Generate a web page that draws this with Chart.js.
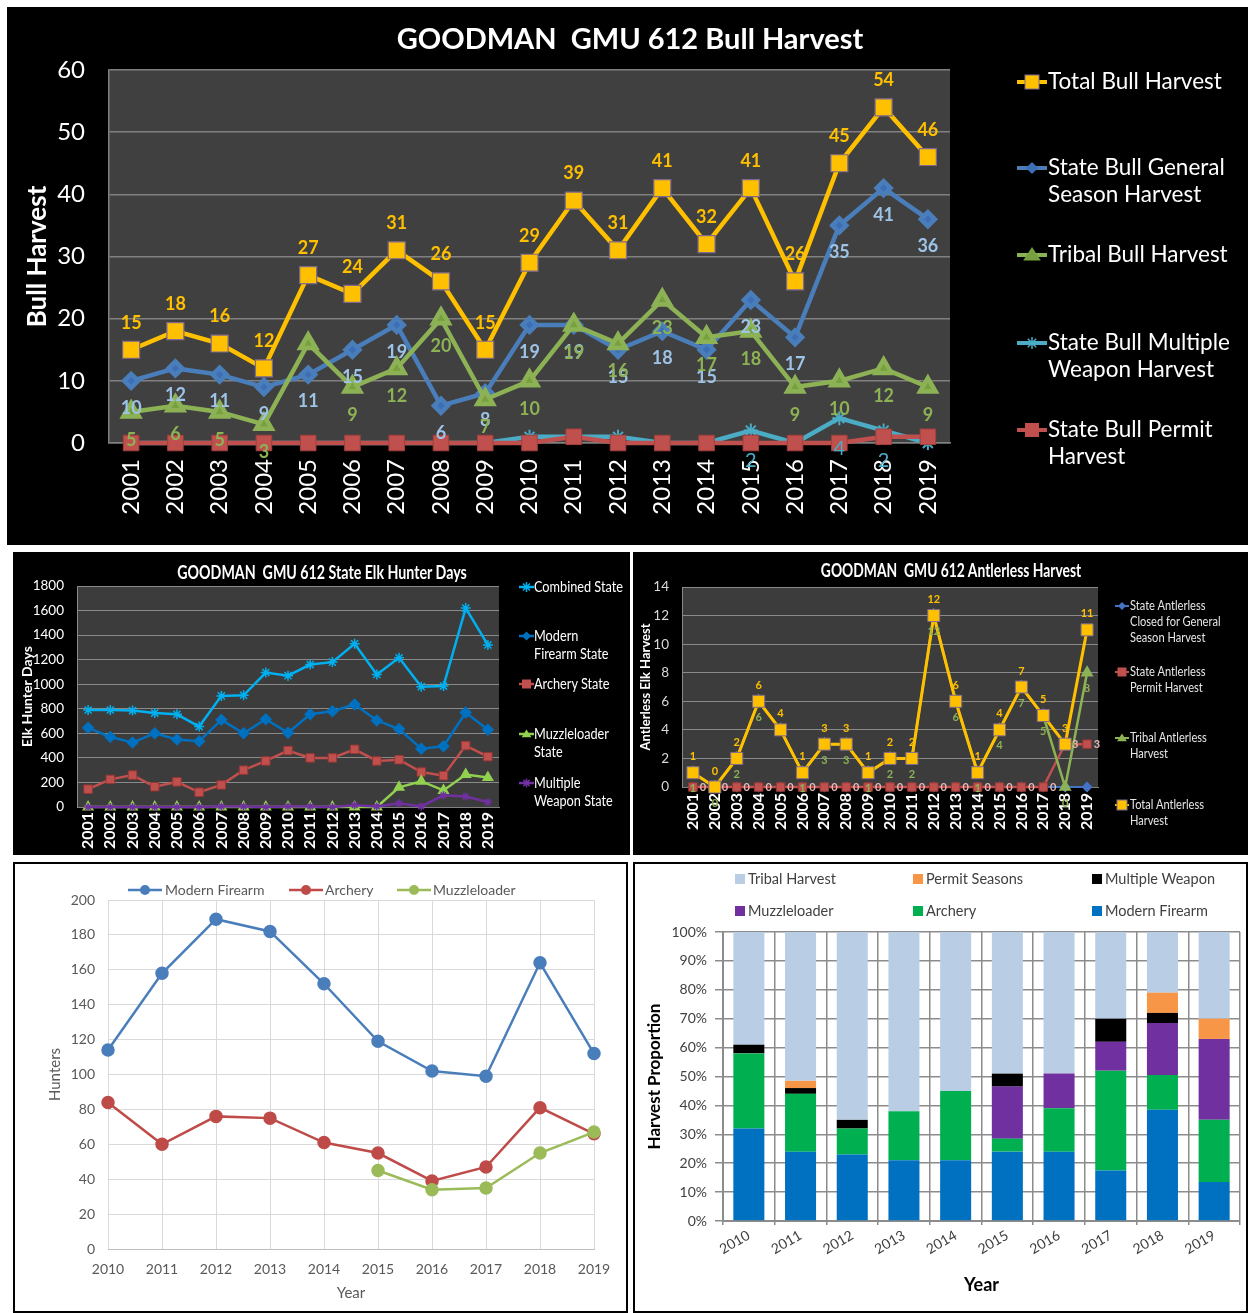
<!DOCTYPE html>
<html><head><meta charset="utf-8">
<script src="https://cdn.jsdelivr.net/npm/chart.js@4.4.1/dist/chart.umd.min.js"></script>
<style>
html,body{margin:0;padding:0;background:#fff;width:1248px;height:1313px;overflow:hidden;font-family:Lato,'Open Sans',sans-serif;}
.box{position:absolute;overflow:hidden;box-sizing:border-box;}
.box canvas{position:absolute;left:0;top:0;}
.lgt{position:absolute;white-space:nowrap;}
.sw{position:absolute;}
.ttl{position:absolute;width:700px;text-align:center;white-space:pre;color:#fff;font-family:Lato,sans-serif;font-weight:bold;transform-origin:center center;}
</style></head><body>
<div class="box" id="b1" style="left:7px;top:7px;width:1241px;height:538px;background:#000;"><canvas id="c1" width="1241" height="538"></canvas></div>
<div class="box" id="b2" style="left:13px;top:552px;width:617px;height:303px;background:#000;"><canvas id="c2" width="617" height="303"></canvas></div>
<div class="box" id="b3" style="left:633px;top:552px;width:615px;height:303px;background:#000;"><canvas id="c3" width="615" height="303"></canvas></div>
<div class="box" id="b4" style="left:13px;top:862px;width:615px;height:451px;background:#fff;border:2px solid #000;"><canvas id="c4" width="611" height="447"></canvas></div>
<div class="box" id="b5" style="left:633px;top:862px;width:615px;height:451px;background:#fff;border:2px solid #000;"><canvas id="c5" width="611" height="447"></canvas></div>
<div class="ttl" style="left:280px;top:20px;font-size:29px;line-height:36px;">GOODMAN  GMU 612 Bull Harvest</div>
<div class="ttl" style="left:-28px;top:561px;font-size:18px;line-height:22px;transform:scaleX(0.79);">GOODMAN  GMU 612 State Elk Hunter Days</div>
<div class="ttl" style="left:601px;top:559px;font-size:18px;line-height:22px;transform:scaleX(0.77);">GOODMAN  GMU 612 Antlerless Harvest</div>
<div id="legends"></div>
<script>
// ---------------- DATA ----------------
const yearsA = ['2001','2002','2003','2004','2005','2006','2007','2008','2009','2010','2011','2012','2013','2014','2015','2016','2017','2018','2019'];
const yearsB = ['2010','2011','2012','2013','2014','2015','2016','2017','2018','2019'];

// Bull harvest
const bullTotal    = [15,18,16,12,27,24,31,26,15,29,39,31,41,32,41,26,45,54,46];
const bullGeneral  = [10,12,11,9,11,15,19,6,8,19,19,15,18,15,23,17,35,41,36];
const bullTribal   = [5,6,5,3,16,9,12,20,7,10,19,16,23,17,18,9,10,12,9];
const bullMultiple = [0,0,0,0,0,0,0,0,0,1,1,1,0,0,2,0,4,2,0];
const bullPermit   = [0,0,0,0,0,0,0,0,0,0,1,0,0,0,0,0,0,1,1];
const bullNames = [['Total Bull Harvest'],['State Bull General','Season Harvest'],['Tribal Bull Harvest'],['State Bull Multiple','Weapon Harvest'],['State Bull Permit','Harvest']];

// State elk hunter days
const daysCombined = [790,790,785,765,755,655,905,910,1095,1070,1160,1180,1330,1080,1215,980,985,1620,1320];
const daysModern   = [645,570,525,600,550,535,710,600,715,605,755,780,835,705,635,475,495,770,630];
const daysArchery  = [145,225,260,165,205,120,180,300,375,460,400,400,470,375,385,285,255,500,410];
const daysMuzzle   = [0,0,0,0,0,0,0,0,0,0,0,0,0,0,160,210,135,265,240];
const daysMultiple = [0,0,0,0,0,0,5,5,0,5,5,0,15,5,30,5,95,85,40];
const daysNames = [['Combined State'],['Modern','Firearm State'],['Archery State'],['Muzzleloader','State'],['Multiple','Weapon State']];

// Antlerless harvest
const antClosed = [0,0,0,0,0,0,0,0,0,0,0,0,0,0,0,0,0,0,0];
const antPermit = [0,0,0,0,0,0,0,0,0,0,0,0,0,0,0,0,0,3,3];
const antTribal = [1,0,2,6,4,1,3,3,1,2,2,12,6,1,4,7,5,0,8];
const antTotal  = [1,0,2,6,4,1,3,3,1,2,2,12,6,1,4,7,5,3,11];
const antNames = [['State Antlerless','Closed for General','Season Harvest'],['State Antlerless','Permit Harvest'],['Tribal Antlerless','Harvest'],['Total Antlerless','Harvest']];

// Hunters
const huntModern  = [114,158,189,182,152,119,102,99,164,112];
const huntArchery = [84,60,76,75,61,55,39,47,81,66];
const huntMuzzle  = [null,null,null,null,null,45,34,35,55,67];
const huntNames = ['Modern Firearm','Archery','Muzzleloader'];

// Harvest proportion (%)
const propModern   = [32,24,23,21,21,24,24,17.5,38.5,13.5];
const propArchery  = [26,20,9,17,24,4.5,15,34.5,12,21.5];
const propMuzzle   = [0,0,0,0,0,18,12,10,18,28];
const propMultiple = [3,2,3,0,0,4.5,0,8,3.5,0];
const propPermit   = [0,2.5,0,0,0,0,0,0,7,7];
const propTribal   = [39,51.5,65,62,55,49,49,30,21,30];
const propNames = ['Tribal Harvest','Permit Seasons','Multiple Weapon','Muzzleloader','Archery','Modern Firearm'];

// ---------------- PLUGINS ----------------
const plotBg = {
  id: 'plotBg',
  beforeDraw(chart, args, opts) {
    if (!opts || !opts.color) return;
    const a = chart.chartArea, ctx = chart.ctx;
    ctx.save(); ctx.fillStyle = opts.color;
    ctx.fillRect(a.left, a.top, a.right - a.left, a.bottom - a.top);
    ctx.restore();
  }
};
const ptLabels = {
  id: 'ptLabels',
  afterDatasetsDraw(chart) {
    const ctx = chart.ctx;
    chart.data.datasets.forEach((ds, i) => {
      const cfg = ds.ptLabel; if (!cfg) return;
      const meta = chart.getDatasetMeta(i);
      ctx.save();
      ctx.font = cfg.font; ctx.fillStyle = cfg.color;
      ctx.textAlign = 'center'; ctx.textBaseline = 'middle';
      meta.data.forEach((el, j) => {
        const v = ds.data[j];
        if (v == null) return;
        if (cfg.skip && cfg.skip.includes(j)) return;
        if (cfg.min != null && v < cfg.min) return;
        ctx.fillText(String(v), el.x + (cfg.dx || 0), el.y + (cfg.dy || 0));
      });
      ctx.restore();
    });
  }
};

function base(extra) {
  return Object.assign({ animation: false, responsive: false, devicePixelRatio: 1, events: [] }, extra);
}
function ln(label, data, color, o) {
  return Object.assign({ label, data, borderColor: color, backgroundColor: color,
    pointBackgroundColor: color, pointBorderColor: color, tension: 0, fill: false, clip: false }, o);
}
const plain = v => String(v);

// ---------------- CHART 1: Bull harvest ----------------
new Chart(document.getElementById('c1'), {
  type: 'line',
  data: { labels: yearsA, datasets: [
    ln(bullNames[0].join(' '), bullTotal, '#FFC000', { borderWidth: 4.5, pointStyle: 'rect', pointRadius: 12, pointBorderColor: '#7F6A8F', pointBorderWidth: 1.2, order: 0,
      ptLabel: { color: '#FFC000', dy: -27, font: 'bold 18px Lato' } }),
    ln(bullNames[1].join(' '), bullGeneral, '#4A7EBB', { borderWidth: 4.5, pointStyle: 'rectRot', pointRadius: 7, pointBackgroundColor: '#3D6FB6', order: -1,
      ptLabel: { color: '#9DC3E6', dy: 27, font: 'bold 18px Lato' } }),
    ln(bullNames[2].join(' '), bullTribal, '#8DB255', { borderWidth: 4.5, pointStyle: 'triangle', pointRadius: 9, pointBackgroundColor: '#77A03E', order: -2,
      ptLabel: { color: '#8DB255', dy: 28, font: 'bold 18px Lato', skip: [4] } }),
    ln(bullNames[3].join(' '), bullMultiple, '#4BACC6', { borderWidth: 4.5, pointStyle: 'star', pointRadius: 7, pointBorderWidth: 2, order: -3,
      ptLabel: { color: '#4BACC6', dy: 30, font: '20px Lato', min: 2 } }),
    ln(bullNames[4].join(' '), bullPermit, '#C0504D', { borderWidth: 4.5, pointStyle: 'rect', pointRadius: 11, pointBorderColor: '#A33F3C', pointBorderWidth: 1, order: -4 })
  ]},
  options: base({
    layout: { padding: { left: 0, right: 298, top: 63, bottom: 0 } },
    plugins: { legend: { display: false }, tooltip: { enabled: false }, title: { display: false }, plotBg: { color: '#404040' } },
    scales: {
      x: { offset: true, grid: { display: false, drawTicks: false }, border: { display: true, color: '#808080', width: 1.5 },
        ticks: { color: '#fff', font: { family: 'Lato', size: 24 }, minRotation: 90, maxRotation: 90, autoSkip: false, padding: 16 },
        afterFit: a => { a.height = 102; } },
      y: { min: 0, max: 60, ticks: { stepSize: 10, color: '#fff', font: { family: 'Lato', size: 24 }, padding: 24, callback: plain },
        grid: { color: '#808080', lineWidth: 1.5, drawTicks: false }, border: { display: true, color: '#808080', width: 1.5 },
        title: { display: true, text: 'Bull Harvest', color: '#fff', font: { family: 'Lato', weight: 'bold', size: 26 }, padding: { top: 15, bottom: 0 } },
        afterFit: a => { a.width = 102; } }
    }
  }),
  plugins: [plotBg, ptLabels]
});

// ---------------- CHART 2: Elk hunter days ----------------
new Chart(document.getElementById('c2'), {
  type: 'line',
  data: { labels: yearsA, datasets: [
    ln(daysNames[0].join(' '), daysCombined, '#00B0F0', { borderWidth: 2.5, pointStyle: 'star', pointRadius: 5, pointBorderWidth: 1.5, order: 0 }),
    ln(daysNames[1].join(' '), daysModern, '#0070C0', { borderWidth: 2.5, pointStyle: 'rectRot', pointRadius: 4.5, order: -1 }),
    ln(daysNames[2].join(' '), daysArchery, '#C0504D', { borderWidth: 2.5, pointStyle: 'rect', pointRadius: 6, pointBorderColor: '#953735', pointBorderWidth: 1, order: -2 }),
    ln(daysNames[3].join(' '), daysMuzzle, '#92D050', { borderWidth: 2.5, pointStyle: 'triangle', pointRadius: 4.5, order: -3 }),
    ln(daysNames[4].join(' '), daysMultiple, '#7030A0', { borderWidth: 2.5, pointStyle: 'star', pointRadius: 4, pointBorderWidth: 1.5, order: -4 })
  ]},
  options: base({
    layout: { padding: { left: 0, right: 131, top: 34, bottom: 0 } },
    plugins: { legend: { display: false }, tooltip: { enabled: false }, title: { display: false }, plotBg: { color: '#3C3C3C' } },
    scales: {
      x: { offset: true, grid: { display: false, drawTicks: false }, border: { display: true, color: '#808080' },
        ticks: { color: '#fff', font: { family: 'Lato', weight: 'bold', size: 16 }, minRotation: 90, maxRotation: 90, autoSkip: false, padding: 5 },
        afterFit: a => { a.height = 48; } },
      y: { min: 0, max: 1800, ticks: { stepSize: 200, color: '#fff', font: { family: 'Lato', size: 13.5 }, padding: 13, callback: plain },
        grid: { color: '#8A8A8A', lineWidth: 1, drawTicks: false }, border: { display: true, color: '#8A8A8A' },
        title: { display: true, text: 'Elk Hunter Days', color: '#fff', font: { family: 'Lato', weight: 'bold', size: 14 }, padding: { top: 6, bottom: 0 } },
        afterFit: a => { a.width = 64; } }
    }
  }),
  plugins: [plotBg]
});

// ---------------- CHART 3: Antlerless ----------------
new Chart(document.getElementById('c3'), {
  type: 'line',
  data: { labels: yearsA, datasets: [
    ln(antNames[0].join(' '), antClosed, '#4472C4', { borderWidth: 2, pointStyle: 'rectRot', pointRadius: 4, order: 0 }),
    ln(antNames[1].join(' '), antPermit, '#C0504D', { borderWidth: 2.5, pointStyle: 'rect', pointRadius: 6, pointBorderColor: '#953735', pointBorderWidth: 1, order: -1,
      ptLabel: { color: '#E6B9B8', dx: 10, dy: 0, font: 'bold 11px Lato' } }),
    ln(antNames[2].join(' '), antTribal, '#8DB255', { borderWidth: 2.5, pointStyle: 'triangle', pointRadius: 5, order: -2,
      ptLabel: { color: '#8DB255', dy: 16, font: 'bold 11px Lato', skip: [4] } }),
    ln(antNames[3].join(' '), antTotal, '#FFC000', { borderWidth: 3, pointStyle: 'rect', pointRadius: 8.5, pointBorderColor: '#7F6A8F', pointBorderWidth: 1, order: -3,
      ptLabel: { color: '#FFC000', dy: -16, font: 'bold 11px Lato' } })
  ]},
  options: base({
    layout: { padding: { left: 0, right: 150, top: 35, bottom: 0 } },
    plugins: { legend: { display: false }, tooltip: { enabled: false }, title: { display: false }, plotBg: { color: '#3C3C3C' } },
    scales: {
      x: { offset: true, grid: { display: false, drawTicks: false }, border: { display: true, color: '#808080' },
        ticks: { color: '#fff', font: { family: 'Lato', weight: 'bold', size: 16 }, minRotation: 90, maxRotation: 90, autoSkip: false, padding: 6 },
        afterFit: a => { a.height = 68; } },
      y: { min: 0, max: 14, ticks: { stepSize: 2, color: '#D9D9D9', font: { family: 'Lato', size: 13.5 }, padding: 13, callback: plain },
        grid: { color: '#8A8A8A', lineWidth: 1, drawTicks: false }, border: { display: true, color: '#8A8A8A' },
        title: { display: true, text: 'Antlerless Elk Harvest', color: '#fff', font: { family: 'Lato', weight: 'bold', size: 13 }, padding: { top: 5, bottom: 0 } },
        afterFit: a => { a.width = 49; } }
    }
  }),
  plugins: [plotBg, ptLabels]
});

// ---------------- CHART 4: Hunters ----------------
new Chart(document.getElementById('c4'), {
  type: 'line',
  data: { labels: yearsB, datasets: [
    ln(huntNames[0], huntModern, '#4A7EBB', { borderWidth: 2.5, pointStyle: 'circle', pointRadius: 5.5, order: 0 }),
    ln(huntNames[1], huntArchery, '#BE4B48', { borderWidth: 2.5, pointStyle: 'circle', pointRadius: 5.5, order: -1 }),
    ln(huntNames[2], huntMuzzle, '#9BBB59', { borderWidth: 2.5, pointStyle: 'circle', pointRadius: 5.5, order: -2 })
  ]},
  options: base({
    layout: { padding: { left: 0, right: 32, top: 36, bottom: 0 } },
    plugins: { legend: { display: false }, tooltip: { enabled: false } },
    scales: {
      x: { offset: false, grid: { color: '#D9D9D9', drawTicks: false }, border: { display: true, color: '#BFBFBF' },
        ticks: { color: '#595959', font: { family: 'Lato', size: 14 }, padding: 12, autoSkip: false, maxRotation: 0 },
        title: { display: true, text: 'Year', color: '#595959', font: { family: 'Lato', size: 15 }, padding: { top: 0, bottom: 9 } },
        afterFit: a => { a.height = 62; } },
      y: { min: 0, max: 200, ticks: { stepSize: 20, color: '#595959', font: { family: 'Lato', size: 14 }, padding: 13, callback: plain },
        grid: { color: '#D9D9D9', drawTicks: false }, border: { display: false },
        title: { display: true, text: 'Hunters', color: '#595959', font: { family: 'Lato', size: 15 }, padding: { top: 31, bottom: 0 } },
        afterFit: a => { a.width = 93; } }
    }
  })
});

// ---------------- CHART 5: Harvest proportion ----------------
const barOpts = { barPercentage: 0.6, categoryPercentage: 1 };
new Chart(document.getElementById('c5'), {
  type: 'bar',
  data: { labels: yearsB, datasets: [
    Object.assign({ label: propNames[5], data: propModern, backgroundColor: '#0070C0' }, barOpts),
    Object.assign({ label: propNames[4], data: propArchery, backgroundColor: '#00B050' }, barOpts),
    Object.assign({ label: propNames[3], data: propMuzzle, backgroundColor: '#7030A0' }, barOpts),
    Object.assign({ label: propNames[2], data: propMultiple, backgroundColor: '#000000' }, barOpts),
    Object.assign({ label: propNames[1], data: propPermit, backgroundColor: '#F79646' }, barOpts),
    Object.assign({ label: propNames[0], data: propTribal, backgroundColor: '#B9CDE5' }, barOpts)
  ]},
  options: base({
    layout: { padding: { left: 0, right: 6, top: 68, bottom: 0 } },
    plugins: { legend: { display: false }, tooltip: { enabled: false } },
    scales: {
      x: { stacked: true, grid: { offset: true, color: '#8C8C8C', lineWidth: 1.5, drawTicks: true, tickLength: 4 }, border: { display: true, color: '#8C8C8C', width: 2 },
        ticks: { color: '#404040', font: { family: 'Lato', size: 14 }, minRotation: 30, maxRotation: 30, autoSkip: false, padding: 2 },
        title: { display: true, text: 'Year', color: '#000', font: { family: 'Lato', weight: 'bold', size: 18 }, padding: { top: 0, bottom: 15 } },
        afterFit: a => { a.height = 90; } },
      y: { stacked: true, min: 0, max: 100, ticks: { stepSize: 10, color: '#404040', font: { family: 'Lato', size: 14 }, padding: 8, callback: v => v + '%' },
        grid: { color: '#8C8C8C', lineWidth: 1.5, drawTicks: true, tickLength: 8 }, border: { display: true, color: '#8C8C8C', width: 2 },
        title: { display: true, text: 'Harvest Proportion', color: '#000', font: { family: 'Lato', weight: 'bold', size: 17 }, padding: { top: 9.8, bottom: 0 } },
        afterFit: a => { a.width = 88; } }
    }
  })
});

// ---------------- HTML LEGENDS ----------------
const L = document.getElementById('legends');
function svgSwatch(w, h, s) {
  const cy = h / 2, cx = w / 2, r = s.size || 0;
  const fill = s.fill || s.color, stroke = s.stroke || 'none';
  let m = '';
  if (s.shape === 'box') return `<svg width="${w}" height="${h}" style="display:block"><rect x="0" y="0" width="${w}" height="${h}" fill="${s.color}"/></svg>`;
  if (s.shape === 'rect') m = `<rect x="${cx - r}" y="${cy - r}" width="${2 * r}" height="${2 * r}" fill="${fill}" stroke="${stroke}" stroke-width="1"/>`;
  if (s.shape === 'diamond') m = `<polygon points="${cx},${cy - r} ${cx + r},${cy} ${cx},${cy + r} ${cx - r},${cy}" fill="${fill}"/>`;
  if (s.shape === 'triangle') m = `<polygon points="${cx},${cy - r} ${cx + r * 1.1},${cy + r * 0.7} ${cx - r * 1.1},${cy + r * 0.7}" fill="${fill}"/>`;
  if (s.shape === 'star') { const k = r * 0.7; m = `<path d="M${cx - r},${cy}H${cx + r}M${cx},${cy - r}V${cy + r}M${cx - k},${cy - k}L${cx + k},${cy + k}M${cx - k},${cy + k}L${cx + k},${cy - k}" stroke="${s.color}" stroke-width="1.5"/>`; }
  if (s.shape === 'circle') m = `<circle cx="${cx}" cy="${cy}" r="${r}" fill="${fill}"/>`;
  return `<svg width="${w}" height="${h}" style="display:block"><line x1="0" y1="${cy}" x2="${w}" y2="${cy}" stroke="${s.color}" stroke-width="${s.lw || 3}"/>${m}</svg>`;
}
function addItem(lines, textX, cy, lh, font, color, swX, swW, swH, sw, sx) {
  const t = document.createElement('div');
  t.className = 'lgt';
  t.style.cssText = `left:${textX}px;top:${cy - lh / 2}px;line-height:${lh}px;font:${font};color:${color};` + (sx ? `transform:scaleX(${sx});transform-origin:left top;` : '');
  lines.forEach((s, i) => { if (i) t.appendChild(document.createElement('br')); t.appendChild(document.createTextNode(s)); });
  L.appendChild(t);
  const d = document.createElement('div');
  d.className = 'sw';
  d.style.cssText = `left:${swX}px;top:${cy - swH / 2}px;`;
  d.innerHTML = svgSwatch(swW, swH, sw);
  L.appendChild(d);
}
// chart 1 legend
const sw1 = [
  { color: '#FFC000', shape: 'rect', size: 7, fill: '#FFC000', stroke: '#7F6A8F', lw: 4 },
  { color: '#4A7EBB', shape: 'diamond', size: 6, fill: '#3D6FB6', lw: 4 },
  { color: '#8DB255', shape: 'triangle', size: 8, fill: '#77A03E', lw: 4 },
  { color: '#4BACC6', shape: 'star', size: 6, lw: 4 },
  { color: '#C0504D', shape: 'rect', size: 7, fill: '#C0504D', lw: 4 }
];
[82, 168, 255, 343, 430].forEach((y, i) => addItem(bullNames[i], 1048, y, 31, "22.5px Lato", '#fff', 1017, 30, 18, sw1[i]));
// chart 2 legend
const sw2 = [
  { color: '#00B0F0', shape: 'star', size: 5, lw: 2.5 },
  { color: '#0070C0', shape: 'diamond', size: 4.5, lw: 2.5 },
  { color: '#C0504D', shape: 'rect', size: 4.5, lw: 2.5 },
  { color: '#92D050', shape: 'triangle', size: 4.5, lw: 2.5 },
  { color: '#7030A0', shape: 'star', size: 4.5, lw: 2.5 }
];
[587, 636, 684, 734, 783].forEach((y, i) => addItem(daysNames[i], 534, y, 21, "15.5px Lato", '#fff', 519, 15, 12, sw2[i], 0.82));
// chart 3 legend
const sw3 = [
  { color: '#4472C4', shape: 'diamond', size: 4, lw: 2 },
  { color: '#C0504D', shape: 'rect', size: 4.5, lw: 2 },
  { color: '#8DB255', shape: 'triangle', size: 4.5, lw: 2 },
  { color: '#FFC000', shape: 'rect', size: 5, fill: '#FFC000', stroke: '#7F6A8F', lw: 2 }
];
[606, 672, 738, 805].forEach((y, i) => addItem(antNames[i], 1130, y, 19, "13.5px Lato", '#E6E6E6', 1115, 14, 12, sw3[i], 0.82));
// chart 4 legend
const sw4 = [
  { color: '#4A7EBB', shape: 'circle', size: 5, lw: 2.5 },
  { color: '#BE4B48', shape: 'circle', size: 5, lw: 2.5 },
  { color: '#9BBB59', shape: 'circle', size: 5, lw: 2.5 }
];
[[128, 165], [289, 325], [397, 433]].forEach((p, i) => addItem([huntNames[i]], p[1], 890, 18, "14px Lato", '#595959', p[0], 34, 12, sw4[i]));
// chart 5 legend
const sw5c = ['#B9CDE5', '#F79646', '#000000', '#7030A0', '#00B050', '#0070C0'];
const col5 = [735, 913, 1092], row5 = [879, 911];
propNames.forEach((nm, i) => addItem([nm], col5[i % 3] + 13, row5[Math.floor(i / 3)], 18, "14.5px Lato", '#404040', col5[i % 3], 10, 10, { shape: 'box', color: sw5c[i] }));
</script>
</body></html>
